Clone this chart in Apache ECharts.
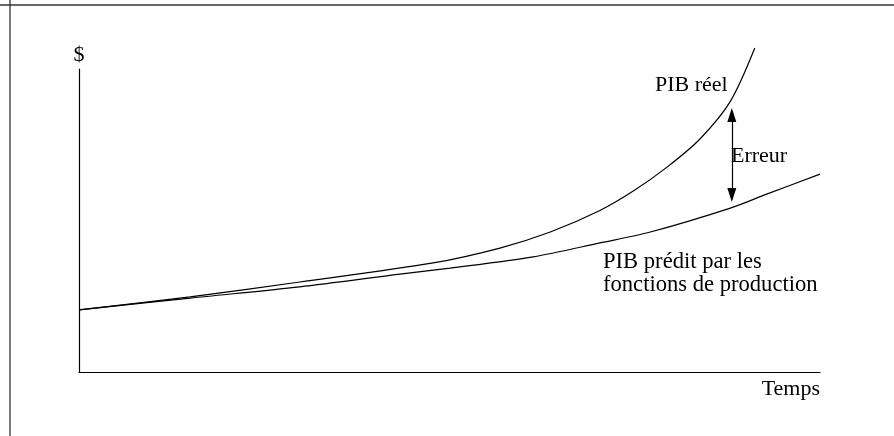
<!DOCTYPE html>
<html>
<head>
<meta charset="utf-8">
<script src="https://cdn.jsdelivr.net/npm/echarts@6/dist/echarts.min.js"></script>
<style>
html,body{margin:0;padding:0;background:#fff;}
#main{width:894px;height:436px;}
</style>
</head>
<body>
<div id="main"></div>
<script>
// Abstract time units (0-100) and abstract $ units (axis spans 0-100)
var timeReal = [0, 15.0, 29.8, 47.8, 56.8, 63.6, 70.3, 74.8, 79.4, 83.8, 87.9, 91.2];
var pibReel  = [20.5, 24.8, 29.7, 36.0, 40.9, 46.2, 53.3, 59.7, 67.7, 76.9, 89.3, 106.9];
var timePred = [0, 15.0, 29.8, 43.3, 50.1, 61.3, 70.3, 77.1, 87.9, 92.8, 100];
var pibPredit = [20.5, 24.4, 28.1, 32.3, 34.3, 38.0, 42.6, 46.2, 54.1, 58.7, 65.3];
// Error arrow: time, upper and lower value
var errorTime = 88.1;
var errorRange = [84.8, 58.4];

var xName = 'Temps';
var yName = '$';
var labelReel = 'PIB réel';
var labelErreur = 'Erreur';
var labelPredit = ['PIB prédit par les', 'fonctions de production'];

var FONT = '"Liberation Serif", "Times New Roman", serif';
var FS = 22;

function pairs(xs, ys){ return xs.map(function(x,i){ return [x, ys[i]]; }); }

var chart = echarts.init(document.getElementById('main'), null, {renderer:'canvas'});
chart.setOption({
  animation: false,
  backgroundColor: '#fff',
  grid: {left: 79, right: 74, top: 69, bottom: 64, containLabel: false},
  xAxis: {
    type: 'value', min: 0, max: 100,
    name: xName, nameLocation: 'end', nameGap: 0,
    nameTextStyle: {fontFamily: FONT, fontSize: FS, color: '#000', align: 'right', verticalAlign: 'top', padding: [6, 0, 0, 0]},
    axisLine: {show: true, onZero: false, lineStyle: {color: '#000', width: 1.2}},
    axisTick: {show: false}, axisLabel: {show: false}, splitLine: {show: false}
  },
  yAxis: {
    type: 'value', min: 0, max: 100,
    name: yName, nameLocation: 'end', nameGap: 3,
    nameTextStyle: {fontFamily: FONT, fontSize: FS, color: '#000', align: 'center', verticalAlign: 'bottom'},
    axisLine: {show: true, onZero: false, lineStyle: {color: '#000', width: 1.2}},
    axisTick: {show: false}, axisLabel: {show: false}, splitLine: {show: false}
  },
  series: [
    {
      name: labelReel, type: 'line', data: pairs(timeReal, pibReel),
      showSymbol: false, smooth: 0.3, clip: false, silent: true,
      lineStyle: {color: '#000', width: 1.2}
    },
    {
      name: labelPredit.join(' '), type: 'line', data: pairs(timePred, pibPredit),
      showSymbol: false, smooth: 0.3, clip: false, silent: true,
      lineStyle: {color: '#000', width: 1.2},
      markLine: {
        silent: true, animation: false,
        symbol: ['triangle', 'triangle'], symbolSize: [9, 14],
        label: {show: false},
        lineStyle: {type: 'solid', color: '#000', width: 1.2},
        emphasis: {disabled: true},
        data: [[{coord: [errorTime, errorRange[0]]}, {coord: [errorTime, errorRange[1]]}]]
      }
    }
  ],
  graphic: [
    {type: 'line', shape: {x1: 0, y1: 5, x2: 894, y2: 5}, style: {stroke: '#333', lineWidth: 1.3}, silent: true},
    {type: 'line', shape: {x1: 10, y1: 0, x2: 10, y2: 436}, style: {stroke: '#333', lineWidth: 1.3}, silent: true},
    {type: 'text', left: 655, top: 74, style: {text: labelReel, font: FS + 'px ' + FONT, fill: '#000'}, silent: true},
    {type: 'text', left: 731, top: 145, style: {text: labelErreur, font: FS + 'px ' + FONT, fill: '#000'}, silent: true},
    {type: 'text', left: 603, top: 251, style: {text: labelPredit[0], font: '22.6px ' + FONT, fill: '#000'}, silent: true},
    {type: 'text', left: 603, top: 274, style: {text: labelPredit[1], font: '22.6px ' + FONT, fill: '#000'}, silent: true}
  ]
});
</script>
</body>
</html>
